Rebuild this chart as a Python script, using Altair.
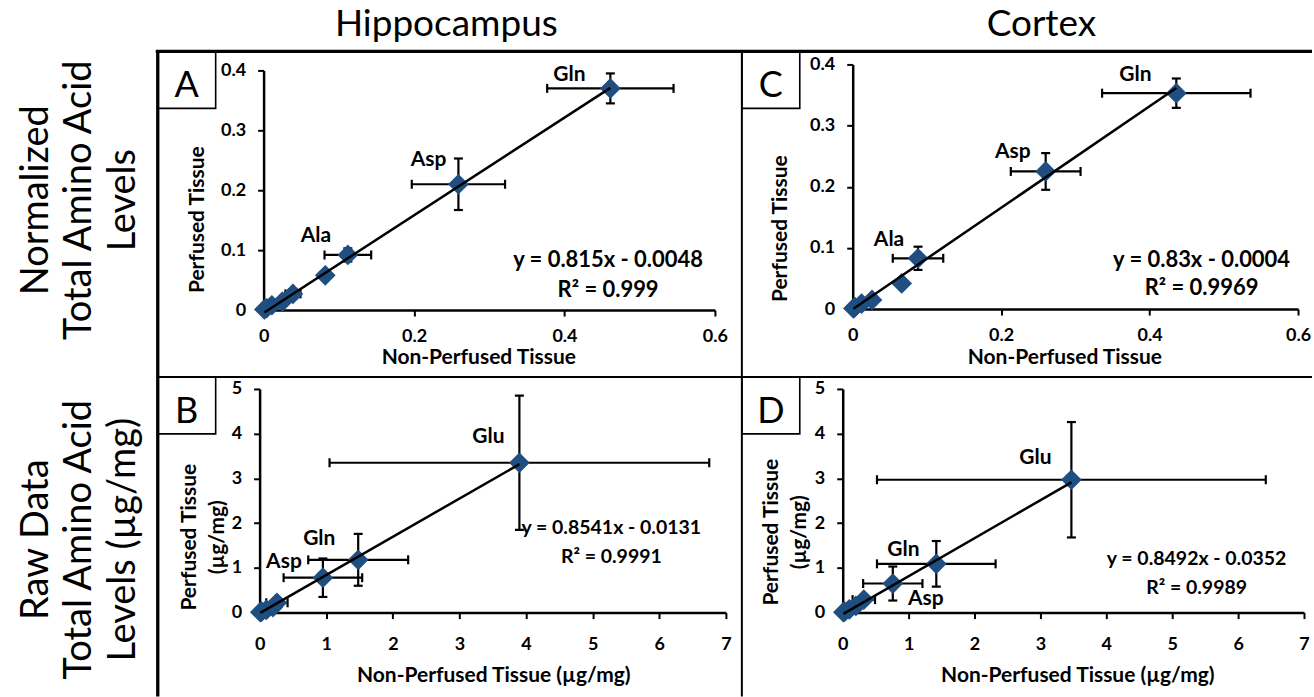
import altair as alt
import pandas as pd

FONT = "Lato"
BLUE = "#1F4E80"

# ---------------- data ----------------
# Panel A: Hippocampus, normalized
a_name = ["Gln", "Asp", "Ala", "", "", "", "", "", ""]
a_x = [0.461, 0.259, 0.112, 0.082, 0.039, 0.025, 0.011, 0.004, 0.001]
a_y = [0.370, 0.210, 0.092, 0.058, 0.027, 0.014, 0.008, 0.003, 0.001]
a_xerr = [0.084, 0.062, 0.031, 0.006, 0.010, 0.006, 0.004, 0.002, 0.001]
a_yerr = [0.025, 0.043, 0.011, 0.005, 0.008, 0.006, 0.003, 0.001, 0.001]
a_fit = (0.815, -0.0048)
a_eq = ["y = 0.815x - 0.0048", "R² = 0.999"]

# Panel C: Cortex, normalized
c_name = ["Gln", "Asp", "Ala", "", "", "", "", ""]
c_x = [0.436, 0.260, 0.088, 0.066, 0.026, 0.012, 0.003, 0.001]
c_y = [0.353, 0.225, 0.083, 0.042, 0.015, 0.009, 0.003, 0.001]
c_xerr = [0.100, 0.047, 0.034, 0.005, 0.006, 0.004, 0.002, 0.001]
c_yerr = [0.024, 0.030, 0.019, 0.004, 0.004, 0.003, 0.001, 0.001]
c_fit = (0.83, -0.0004)
c_eq = ["y = 0.83x - 0.0004", "R² = 0.9969"]

# Panel B: Hippocampus, raw (ug/mg)
b_name = ["Glu", "Gln", "Asp", "", "", "", "", ""]
b_x = [3.90, 1.48, 0.95, 0.26, 0.20, 0.10, 0.03, 0.01]
b_y = [3.35, 1.18, 0.78, 0.22, 0.12, 0.06, 0.02, 0.01]
b_xerr = [2.85, 0.75, 0.59, 0.16, 0.05, 0.03, 0.01, 0.01]
b_yerr = [1.50, 0.58, 0.43, 0.10, 0.04, 0.02, 0.01, 0.01]
b_fit = (0.8541, -0.0131)
b_eq = ["y = 0.8541x - 0.0131", "R² = 0.9991"]

# Panel D: Cortex, raw (ug/mg)
d_name = ["Glu", "Gln", "Asp", "", "", "", "", ""]
d_x = [3.47, 1.42, 0.76, 0.32, 0.20, 0.10, 0.03, 0.01]
d_y = [2.97, 1.09, 0.65, 0.29, 0.15, 0.07, 0.02, 0.01]
d_xerr = [2.95, 0.90, 0.45, 0.17, 0.05, 0.03, 0.01, 0.01]
d_yerr = [1.29, 0.51, 0.38, 0.10, 0.04, 0.02, 0.01, 0.01]
d_fit = (0.8492, -0.0352)
d_eq = ["y = 0.8492x - 0.0352", "R² = 0.9989"]

col_titles = ["Hippocampus", "Cortex"]
row_titles_top = ["Normalized", "Total Amino Acid", "Levels"]
row_titles_bot = ["Raw Data", "Total Amino Acid", "Levels (µg/mg)"]
panel_letters = ["A", "B", "C", "D"]

norm_xticks = [0, 0.2, 0.4, 0.6]
norm_yticks = [0, 0.1, 0.2, 0.3, 0.4]
raw_xticks = [0, 1, 2, 3, 4, 5, 6, 7]
raw_yticks = [0, 1, 2, 3, 4, 5]


def frame(name, x, y, xerr, yerr):
    df = pd.DataFrame({"name": name, "x": x, "y": y, "xerr": xerr, "yerr": yerr})
    df["xlo"] = df["x"] - df["xerr"]
    df["xhi"] = df["x"] + df["xerr"]
    df["ylo"] = df["y"] - df["yerr"]
    df["yhi"] = df["y"] + df["yerr"]
    return df


def panel(df, fit, eq, eq_pos, eq_size, xdom, ydom, xrange, yrange, width, height,
          xticks, yticks, xtitle, ytitle, yoff, xt_pos, yt_pos, label_off, extra=None):
    xs = alt.Scale(domain=xdom, range=xrange, nice=False, zero=False)
    ys = alt.Scale(domain=ydom, range=yrange, nice=False, zero=False)
    xa = alt.Axis(values=xticks, format="~g", title=xtitle, titleX=xt_pos[0],
                  titleY=xt_pos[1], titleBaseline="top", titleAlign="center",
                  labelPadding=xt_pos[2])
    ya = alt.Axis(values=yticks, format="~g", title=ytitle, offset=yoff,
                  titleX=yt_pos[0], titleY=yt_pos[1], titleAngle=270,
                  titleBaseline="middle", titleAlign="center", labelPadding=12)

    def X(f):
        return alt.X(f, type="quantitative", scale=xs, axis=xa)

    def Y(f):
        return alt.Y(f, type="quantitative", scale=ys, axis=ya)

    base = alt.Chart(df)
    layers = []
    if extra:
        layers.extend(extra)
    layers.append(base.mark_rule(color="black", strokeWidth=2.2).encode(
        x=X("xlo"), x2="xhi", y=Y("y")))
    layers.append(base.mark_rule(color="black", strokeWidth=2.2).encode(
        x=X("x"), y=Y("ylo"), y2="yhi"))
    for f in ["xlo", "xhi"]:
        layers.append(base.mark_tick(orient="vertical", size=9, thickness=2.2,
                                     color="black", opacity=1).encode(x=X(f), y=Y("y")))
    for f in ["ylo", "yhi"]:
        layers.append(base.mark_tick(orient="horizontal", size=9, thickness=2.2,
                                     color="black", opacity=1).encode(x=X("x"), y=Y(f)))
    layers.append(base.mark_point(shape="diamond", filled=True, size=430, color=BLUE,
                                  opacity=1).encode(x=X("x"), y=Y("y")))
    x0, x1 = min(df["x"]), max(df["x"])
    line_df = pd.DataFrame({"x": [x0, x1], "y": [fit[0] * x0 + fit[1], fit[0] * x1 + fit[1]]})
    layers.append(alt.Chart(line_df).mark_line(color="black", strokeWidth=2.5).encode(
        x=X("x"), y=Y("y")))
    for nm, (dx, dy) in label_off.items():
        layers.append(alt.Chart(df[df["name"] == nm]).mark_text(
            dx=dx, dy=dy, font=FONT, fontSize=21, fontWeight="bold", color="black",
            align="center", baseline="middle").encode(x=X("x"), y=Y("y"), text="name"))
    eq_df = pd.DataFrame({"t": eq, "x": [eq_pos[0]] * 2, "y": eq_pos[1:]})
    layers.append(alt.Chart(eq_df).mark_text(
        font=FONT, fontSize=eq_size, fontWeight="bold", color="black", align="center",
        baseline="middle").encode(x=X("x"), y=Y("y"), text="t"))
    return alt.layer(*layers).properties(width=width, height=height)


# ---------------- decorations (pixel positions relative to panel A's plot origin) ----------------
one = pd.DataFrame({"k": [0]})
deco = []
deco.append(alt.Chart(one).mark_rect(opacity=0, fillOpacity=0).encode(
    x=alt.value(-260), x2=alt.value(1054), y=alt.value(-64), y2=alt.value(633)))
for bx, by in [(-102, -13), (-102, 313), (483, -13), (483, 313)]:
    deco.append(alt.Chart(one).mark_rect(fill="white", stroke="black", strokeWidth=1.6).encode(
        x=alt.value(bx), x2=alt.value(bx + 58), y=alt.value(by), y2=alt.value(by + 57)))
deco.append(alt.Chart(one).mark_rule(color="black", strokeWidth=3.3).encode(
    x=alt.value(-104), x2=alt.value(1054), y=alt.value(-13)))
deco.append(alt.Chart(one).mark_rule(color="black", strokeWidth=3.3).encode(
    x=alt.value(-102), y=alt.value(-14), y2=alt.value(633)))
deco.append(alt.Chart(one).mark_rule(color="black", strokeWidth=2).encode(
    x=alt.value(483), y=alt.value(-13), y2=alt.value(633)))
deco.append(alt.Chart(one).mark_rule(color="black", strokeWidth=2).encode(
    x=alt.value(-102), x2=alt.value(1054), y=alt.value(313)))
for letter, (lx, ly) in zip(panel_letters, [(-73, 22), (-73, 348), (512, 22), (512, 348)]):
    deco.append(alt.Chart(one).mark_text(font=FONT, fontSize=36, color="black",
                                         align="center", baseline="middle", text=letter).encode(
        x=alt.value(lx), y=alt.value(ly)))
for t, tx in zip(col_titles, [187, 783]):
    deco.append(alt.Chart(one).mark_text(font=FONT, fontSize=37, color="black",
                                         align="center", baseline="middle", text=t).encode(
        x=alt.value(tx), y=alt.value(-39)))
for lines, cy in [(row_titles_top, 136), (row_titles_bot, 476)]:
    for t, tx in zip(lines, [-223, -180, -136]):
        deco.append(alt.Chart(one).mark_text(font=FONT, fontSize=38, color="black", angle=270,
                                             align="center", baseline="middle", text=t).encode(
            x=alt.value(tx), y=alt.value(cy)))

A = panel(frame(a_name, a_x, a_y, a_xerr, a_yerr), a_fit, a_eq, [0.458, 0.083, 0.033], 22,
          [0, 0.6], [0, 0.4], [4, 456], [246, 6], 456, 246, norm_xticks, norm_yticks,
          "Non-Perfused Tissue", "Perfused Tissue", -4, (219, 37, 11), (-66, 155),
          {"Gln": (-41, -13), "Asp": (-30, -24), "Ala": (-32, -19)}, extra=deco)
C = panel(frame(c_name, c_x, c_y, c_xerr, c_yerr), c_fit, c_eq, [0.47, 0.08, 0.034], 22,
          [0, 0.6], [0, 0.4], [10, 456], [245, 0], 456, 245, norm_xticks, norm_yticks,
          "Non-Perfused Tissue", "Perfused Tissue", -10, (222, 38, 11), (-72, 164),
          {"Gln": (-41, -18), "Asp": (-33, -19), "Ala": (-29, -18)})
B = panel(frame(b_name, b_x, b_y, b_xerr, b_yerr), b_fit, b_eq, [5.28, 1.9, 1.25], 19.5,
          [0, 7], [0, 5], [0, 467], [224, 0], 467, 224, raw_xticks, raw_yticks,
          "Non-Perfused Tissue (µg/mg)", ["Perfused Tissue", "(µg/mg)"], 0, (234, 52, 17),
          (-70, 148), {"Glu": (-31, -26), "Gln": (-39, -21), "Asp": (-39, -16)})
D = panel(frame(d_name, d_x, d_y, d_xerr, d_yerr), d_fit, d_eq, [5.37, 1.2, 0.54], 19.5,
          [0, 7], [0, 5], [0, 462], [224, 0], 462, 224, raw_xticks, raw_yticks,
          "Non-Perfused Tissue (µg/mg)", ["Perfused Tissue", "(µg/mg)"], 0, (235, 52, 17),
          (-71, 143), {"Glu": (-36, -22), "Gln": (-33, -14), "Asp": (33, 16)})

chart = alt.concat(A, C, B, D, columns=2, bounds="flush",
                   spacing=alt.RowColnumber(row=79, column=117)).properties(
    padding=0, background="white"
).configure_view(stroke=None).configure_axis(
    grid=False, domainColor="black", domainWidth=2.5, tickColor="black", tickWidth=2,
    tickSize=6, labelFont=FONT, labelFontSize=18, labelFontWeight="bold", labelColor="black",
    titleFont=FONT, titleFontSize=21, titleFontWeight="bold", titleColor="black",
    titleLineHeight=28, labelOverlap=False, labelFlush=False
)

chart.save("out.html", embed_options={"renderer": "svg", "actions": False})
